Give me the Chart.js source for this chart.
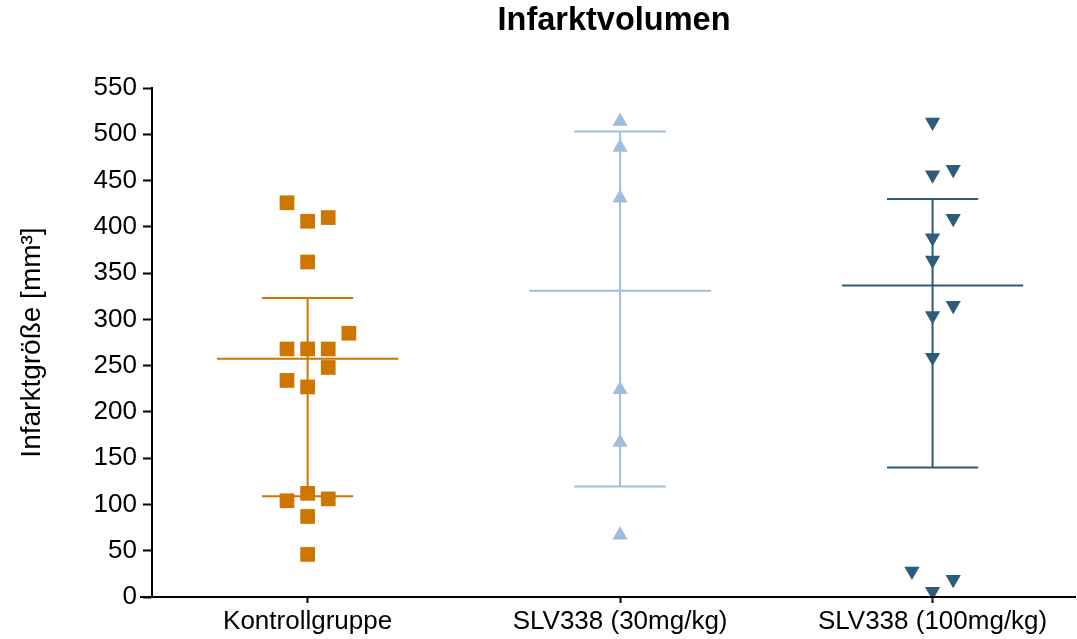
<!DOCTYPE html>
<html lang="de">
<head>
<meta charset="utf-8">
<title>Infarktvolumen</title>
<script src="https://cdn.jsdelivr.net/npm/chart.js@4"></script>
<style>
  html, body { margin: 0; padding: 0; background: #fff; }
  canvas { display: block; }
</style>
</head>
<body>
<canvas id="chart" width="1077" height="639"></canvas>
<script>
// Gruppen und Einzelwerte (Infarktgröße in mm³)
const gruppen = ['Kontrollgruppe', 'SLV338 (30mg/kg)', 'SLV338 (100mg/kg)'];
const kontrolle = [406, 410, 426, 362, 268, 268, 268, 285, 227, 248, 234, 112, 106, 104, 87, 46];
const slv30 = [514, 486, 431, 224, 167, 67];
const slv100 = [513, 456, 462, 388, 409, 364, 304, 315, 259, 6, 19, 28];

// Mittelwert und Fehlerbalken je Gruppe
const mittelwerte = [257.5, 331, 336.5];
const fehlerOben = [323, 503, 430];
const fehlerUnten = [109, 119.5, 140];

const yTicks = [0, 50, 100, 150, 200, 250, 300, 350, 400, 450, 500, 550];

const farben = ['#cd7600', '#a0bddd', '#2c5d7c'];
const ARIAL = 'Liberation Sans, Arial, Helvetica, sans-serif';

// Punkte derselben Werte-Zeile werden nebeneinander gesetzt
const ZEILE = 55, ZEILE_START = 47, SPALTE = 0.066;
const SLOTS = [0, 1, -1, 2, -2, 3, -3];
function streuen(werte, mitte) {
  const belegt = {};
  return werte.map(v => {
    const z = Math.floor((v - ZEILE_START) / ZEILE);
    const n = belegt[z] || 0;
    belegt[z] = n + 1;
    return { x: mitte + SLOTS[n] * SPALTE, y: v };
  });
}

// Mittelwertlinie, senkrechter Balken und Endkappen als ein Linienzug mit Lücken
function fehlerbalken(i) {
  const m = 0.29, k = 0.146;
  const gap = { x: i, y: null };
  return [
    { x: i - m, y: mittelwerte[i] }, { x: i + m, y: mittelwerte[i] }, gap,
    { x: i, y: fehlerUnten[i] }, { x: i, y: fehlerOben[i] }, gap,
    { x: i - k, y: fehlerOben[i] }, { x: i + k, y: fehlerOben[i] }, gap,
    { x: i - k, y: fehlerUnten[i] }, { x: i + k, y: fehlerUnten[i] }
  ];
}

const reihen = [kontrolle, slv30, slv100];
const formen = [
  { pointStyle: 'rect', rotation: 0, radius: 10.4 },
  { pointStyle: 'triangle', rotation: 0, radius: 8.8 },
  { pointStyle: 'triangle', rotation: 180, radius: 8.8 }
];

const datasets = [];
reihen.forEach((werte, i) => {
  datasets.push({
    type: 'line',
    label: gruppen[i] + ' Mittelwert',
    data: fehlerbalken(i),
    borderColor: farben[i],
    borderWidth: 2,
    pointRadius: 0,
    fill: false,
    tension: 0,
    spanGaps: false,
    order: 2
  });
  datasets.push({
    type: 'scatter',
    label: gruppen[i],
    data: streuen(werte, i),
    backgroundColor: farben[i],
    borderWidth: 0,
    pointStyle: formen[i].pointStyle,
    rotation: formen[i].rotation,
    pointRadius: formen[i].radius,
    pointHoverRadius: formen[i].radius,
    clip: false,
    order: 1
  });
});

// Durchgehende x-Achsenlinie, die links etwas über die y-Achse hinausragt
const xAchse = {
  id: 'xAchse',
  afterDatasetsDraw(chart) {
    const { ctx, chartArea, scales } = chart;
    const y = Math.round(scales.y.getPixelForValue(0));
    ctx.save();
    ctx.strokeStyle = '#000';
    ctx.lineWidth = 2;
    ctx.beginPath();
    ctx.moveTo(chartArea.left - 12, y);
    ctx.lineTo(chartArea.right, y);
    ctx.stroke();
    ctx.restore();
  }
};

new Chart(document.getElementById('chart'), {
  type: 'scatter',
  data: { datasets },
  plugins: [xAchse],
  options: {
    responsive: false,
    animation: false,
    devicePixelRatio: 1,
    layout: { autoPadding: false, padding: { left: 0, right: 1, top: 0, bottom: 0 } },
    plugins: {
      legend: { display: false },
      tooltip: { enabled: false },
      title: {
        display: true,
        text: 'Infarktvolumen',
        fullSize: false,
        color: '#000',
        font: { family: ARIAL, size: 32.5, weight: 'bold' },
        padding: { top: 1.3, bottom: 47.7 }
      }
    },
    scales: {
      x: {
        type: 'linear',
        min: -0.498,
        max: 2.459,
        afterBuildTicks: s => { s.ticks = gruppen.map((_, i) => ({ value: i })); },
        afterFit: s => { s.height = 42; },
        grid: { display: true, drawOnChartArea: false, drawTicks: true, tickLength: 6, tickColor: '#000', tickWidth: 2 },
        border: { display: false },
        ticks: {
          autoSkip: false,
          maxRotation: 0,
          padding: 3.5,
          color: '#000',
          font: { family: ARIAL, size: 26 },
          callback: v => gruppen[v] !== undefined ? gruppen[v] : ''
        }
      },
      y: {
        min: 0,
        max: 550,
        afterBuildTicks: s => { s.ticks = yTicks.map(v => ({ value: v })); },
        afterFit: s => { s.width = 152; },
        grid: { display: true, drawOnChartArea: false, drawTicks: true, tickLength: 9, tickColor: '#000', tickWidth: 2 },
        border: { display: true, color: '#000', width: 2 },
        ticks: {
          padding: 6,
          color: '#000',
          font: { family: ARIAL, size: 26 }
        },
        title: {
          display: true,
          text: 'Infarktgröße [mm³]',
          color: '#000',
          font: { family: ARIAL, size: 28 },
          padding: { top: 15, bottom: 0 }
        }
      }
    }
  }
});
</script>
</body>
</html>
